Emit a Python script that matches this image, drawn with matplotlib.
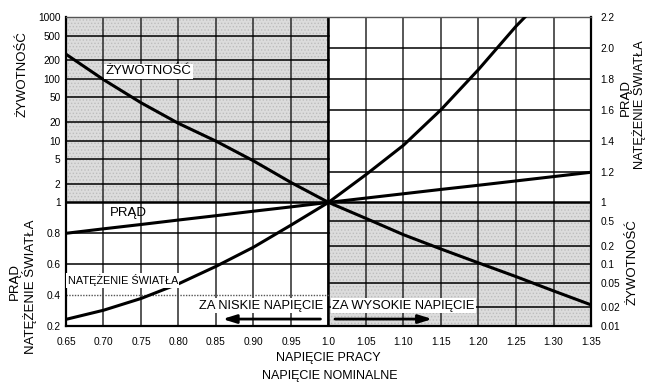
import matplotlib
matplotlib.use("Agg")
import matplotlib.pyplot as plt

plt.rcParams['font.family'] = ['Liberation Sans', 'DejaVu Sans']
plt.rcParams['hatch.linewidth'] = 0.6

# napięcie pracy / napięcie nominalne
voltage = [0.65, 0.70, 0.75, 0.80, 0.85, 0.90, 0.95, 1.00,
           1.05, 1.10, 1.15, 1.20, 1.25, 1.30, 1.35]
# żywotność (skala logarytmiczna)
life = [250, 97, 41, 19, 9.8, 4.7, 2.1, 1.0,
        0.55, 0.30, 0.176, 0.105, 0.063, 0.037, 0.022]
# prąd
current = [0.80, 0.829, 0.857, 0.886, 0.914, 0.943, 0.971, 1.0,
           1.028, 1.056, 1.084, 1.111, 1.139, 1.167, 1.195]
# natężenie światła (kończy się na górnej krawędzi wykresu)
light_v = [0.65, 0.70, 0.75, 0.80, 0.85, 0.90, 0.95, 1.00,
           1.05, 1.10, 1.15, 1.20, 1.25, 1.262]
light = [0.243, 0.302, 0.378, 0.473, 0.586, 0.71, 0.853, 1.0,
         1.18, 1.37, 1.6, 1.86, 2.14, 2.2]

x_ticks = [0.65, 0.70, 0.75, 0.80, 0.85, 0.90, 0.95, 1.0,
           1.05, 1.10, 1.15, 1.20, 1.25, 1.30, 1.35]
x_labels = ['0.65', '0.70', '0.75', '0.80', '0.85', '0.90', '0.95', '1.0',
            '1.05', '1.10', '1.15', '1.20', '1.25', '1.30', '1.35']
lin_low = [0.2, 0.4, 0.6, 0.8]
lin_low_labels = ['0.2', '0.4', '0.6', '0.8']
lin_high = [1.2, 1.4, 1.6, 1.8, 2.0, 2.2]
lin_high_labels = ['1.2', '1.4', '1.6', '1.8', '2.0', '2.2']
life_high = [1, 2, 5, 10, 20, 50, 100, 200, 500, 1000]
life_high_labels = ['1', '2', '5', '10', '20', '50', '100', '200', '500', '1000']
life_low = [0.01, 0.02, 0.05, 0.1, 0.2, 0.5, 1]
life_low_labels = ['0.01', '0.02', '0.05', '0.1', '0.2', '0.5', '1']

fig = plt.figure(figsize=(6.45, 3.83), dpi=100)
ax = fig.add_axes([66 / 645, 1 - 326 / 383, 525 / 645, 309 / 383])
ax.set_xlim(0.65, 1.35)
ax.set_ylim(0.2, 2.2)

# zacienione ćwiartki żywotności
shade = dict(facecolor='#dcdcdc', edgecolor='#bdbdbd', hatch='.....', linewidth=0, zorder=0)
ax.fill_between([0.65, 1.0], 1.0, 2.2, **shade)
ax.fill_between([1.0, 1.35], 0.2, 1.0, **shade)

# siatka
for v in x_ticks[1:-1]:
    ax.axvline(v, color='#2a2a2a', lw=1.1, zorder=1)
ax.axvline(1.0, color='black', lw=1.8, zorder=1)
ax.axhline(1.0, color='black', lw=1.8, zorder=1)
for v in [0.6, 0.8]:
    ax.axhline(v, xmin=0, xmax=0.5, color='black', lw=1.1, zorder=1)
ax.axhline(0.4, xmin=0, xmax=0.5, color='#555555', lw=1.0, ls=(0, (1, 1)), zorder=1)
for v in lin_high[:-1]:
    ax.axhline(v, xmin=0.5, xmax=1, color='black', lw=1.1, zorder=1)

ax.plot(voltage, current, color='black', lw=2.2, zorder=3)
ax.plot(light_v, light, color='black', lw=2.2, zorder=3)

ax.set_xticks(x_ticks)
ax.set_xticklabels(x_labels)
ax.set_yticks(lin_low)
ax.set_yticklabels(lin_low_labels)
ax.tick_params(axis='both', length=0, labelsize=7.3)
ax.tick_params(axis='x', pad=8)
ax.tick_params(axis='y', pad=4)
for side in ['left', 'right', 'bottom']:
    ax.spines[side].set_linewidth(1.6)
ax.spines['top'].set_linewidth(1.0)
ax.spines['top'].set_color('#555555')

# prawa skala liniowa
ax_r = ax.twinx()
ax_r.set_ylim(0.2, 2.2)
ax_r.set_yticks(lin_high)
ax_r.set_yticklabels(lin_high_labels)
ax_r.tick_params(length=0, labelsize=7.3, pad=7)

# skale żywotności
ax_lr = ax.twinx()
ax_lr.set_yscale('log')
ax_lr.set_ylim(0.01, 1000)
ax_lr.set_yticks(life_low)
ax_lr.set_yticklabels(life_low_labels)
ax_lr.yaxis.set_minor_locator(matplotlib.ticker.NullLocator())
ax_lr.tick_params(length=0, labelsize=7.3, pad=7)

ax_l = ax.twinx()
ax_l.set_yscale('log')
ax_l.set_ylim(0.01, 1000)
ax_l.yaxis.tick_left()
ax_l.set_yticks(life_high)
ax_l.set_yticklabels(life_high_labels)
ax_l.yaxis.set_minor_locator(matplotlib.ticker.NullLocator())
ax_l.tick_params(length=0, labelsize=7.3, pad=4)

for a in [ax_r, ax_lr, ax_l]:
    for s in a.spines.values():
        s.set_visible(False)

for v in life_high[1:-1]:
    ax_l.axhline(v, xmin=0, xmax=0.5, color='black', lw=1.1, zorder=1)
for v in life_low[1:-1]:
    ax_l.axhline(v, xmin=0.5, xmax=1, color='black', lw=1.1, zorder=1)

ax_l.plot(voltage, life, color='black', lw=2.2, zorder=3)

# opisy krzywych
box = dict(facecolor='white', edgecolor='none', pad=1.0)
ax_l.text(0.703, 1.85, 'ŻYWOTNOŚĆ', transform=ax.transData, fontsize=9.5,
          va='center', ha='left', bbox=box, zorder=5)
ax_l.text(0.708, 0.93, 'PRĄD', transform=ax.transData, fontsize=9.5,
          va='center', ha='left', zorder=5)
ax_l.text(0.652, 0.497, 'NATĘŻENIE ŚWIATŁA', transform=ax.transData, fontsize=7.8,
          va='center', ha='left', bbox=box, zorder=5)
ax_l.text(0.993, 0.33, 'ZA NISKIE NAPIĘCIE', transform=ax.transData, fontsize=9.3,
          va='center', ha='right', bbox=box, zorder=5)
ax_l.text(1.005, 0.33, 'ZA WYSOKIE NAPIĘCIE', transform=ax.transData, fontsize=9.3,
          va='center', ha='left', bbox=box, zorder=5)

arrow = dict(arrowstyle='-|>,head_length=0.8,head_width=0.25', color='black', lw=2.0)
ax_l.annotate('', xy=(0.855, 0.245), xytext=(0.993, 0.245),
              xycoords=ax.transData, textcoords=ax.transData, arrowprops=arrow, zorder=5)
ax_l.annotate('', xy=(1.142, 0.245), xytext=(1.005, 0.245),
              xycoords=ax.transData, textcoords=ax.transData, arrowprops=arrow, zorder=5)

# opisy osi
def px(x, y):
    return x / 645, 1 - y / 383

fig.text(*px(328, 358), 'NAPIĘCIE PRACY', fontsize=9, ha='center', va='center')
fig.text(*px(330, 376), 'NAPIĘCIE NOMINALNE', fontsize=9, ha='center', va='center')
fig.text(*px(23, 74), 'ŻYWOTNOŚĆ', fontsize=9.5, rotation=90, ha='center', va='center')
fig.text(*px(15, 282), 'PRĄD', fontsize=9.5, rotation=90, ha='center', va='center')
fig.text(*px(30, 287), 'NATĘŻENIE ŚWIATŁA', fontsize=9.5, rotation=90, ha='center', va='center')
fig.text(*px(626, 97), 'PRĄD', fontsize=9.5, rotation=90, ha='center', va='center')
fig.text(*px(638, 105), 'NATĘŻENIE ŚWIATŁA', fontsize=9.2, rotation=90, ha='center', va='center')
fig.text(*px(633, 262), 'ŻYWOTNOŚĆ', fontsize=9.5, rotation=90, ha='center', va='center')

fig.savefig('out.png', dpi=100)
